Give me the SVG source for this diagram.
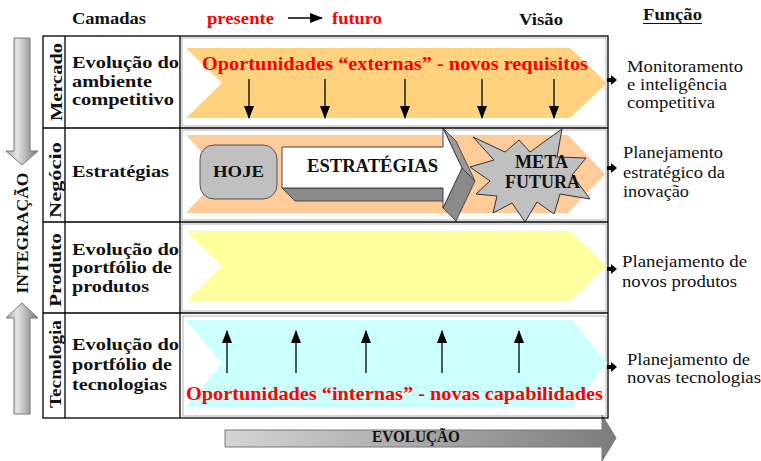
<svg xmlns="http://www.w3.org/2000/svg" width="761" height="461" viewBox="0 0 761 461">
<defs>
<style>
.b{font-family:"Liberation Serif","Times New Roman",serif;font-weight:bold;fill:#111}
.r{font-family:"Liberation Serif","Times New Roman",serif;font-weight:bold;fill:#ff0000}
.n{font-family:"Liberation Serif","Times New Roman",serif;fill:#111;font-size:17px}
.grid{stroke:#000;stroke-width:1.3;fill:none}
.frame{stroke:#a0a0a0;stroke-width:0.8;fill:none}
.ar{stroke:#000;stroke-width:1.3;fill:none;marker-end:url(#ah)}
.big{stroke:#777;stroke-width:1}
</style>
<marker id="ah" viewBox="0 0 13 10" refX="12" refY="5" markerWidth="13" markerHeight="10" markerUnits="userSpaceOnUse" orient="auto">
<path d="M0,0 L13,5 L0,10 Z" fill="#000"/>
</marker>
<linearGradient id="gv" x1="0" x2="1" y1="0" y2="0">
<stop offset="0" stop-color="#a8a8a8"/><stop offset="0.35" stop-color="#e4e4e4"/><stop offset="1" stop-color="#767676"/>
</linearGradient>
<linearGradient id="gh" x1="0" x2="1" y1="0" y2="0">
<stop offset="0" stop-color="#d4d4d4"/><stop offset="1" stop-color="#7c7c7c"/>
</linearGradient>
</defs>
<rect width="761" height="461" fill="#fff"/>

<g id="header">
<text class="b" x="72" y="24" font-size="17" textLength="74" lengthAdjust="spacingAndGlyphs">Camadas</text>
<text class="r" x="207" y="24" font-size="17" textLength="67" lengthAdjust="spacingAndGlyphs">presente</text>
<text class="r" x="332" y="24" font-size="17" textLength="50" lengthAdjust="spacingAndGlyphs">futuro</text>
<text class="b" x="519" y="25" font-size="17" textLength="44" lengthAdjust="spacingAndGlyphs">Visão</text>
<text class="b" x="643" y="20" font-size="17" textLength="59" lengthAdjust="spacingAndGlyphs">Função</text>
<line x1="643" y1="23.5" x2="702" y2="23.5" stroke="#111" stroke-width="1.2"/>
</g>

<g id="integracao">
<polygon class="big" fill="url(#gv)" points="14,38 30,38 30,151 38,151 22,165 6,151 14,151"/>
<polygon class="big" fill="url(#gv)" points="22,303 38,318 30,318 30,414 14,414 14,318 6,318"/>
<text class="b" transform="translate(28,233) rotate(-90)" text-anchor="middle" font-size="16" textLength="121" lengthAdjust="spacingAndGlyphs">INTEGRAÇÃO</text>
</g>

<g id="evolucao">
<polygon class="big" fill="url(#gh)" points="225,430 602,430 602,415 616,438 602,461 602,447 225,447"/>
<text class="b" x="372" y="442" font-size="17" fill="#1a1a3a" textLength="88" lengthAdjust="spacingAndGlyphs">EVOLUÇÃO</text>
</g>

<g id="row-mercado">
<rect class="frame" x="182" y="38" width="424" height="88"/>
<polygon fill="#FFD27F" points="186,48 570,48 607,83 570,118 186,118 222,83"/>
<text class="b" transform="translate(62,82) rotate(-90)" text-anchor="middle" font-size="17" textLength="78" lengthAdjust="spacingAndGlyphs">Mercado</text>
<text class="b" x="72" y="68" font-size="17" textLength="107" lengthAdjust="spacingAndGlyphs">Evolução do</text>
<text class="b" x="72" y="87" font-size="17" textLength="80" lengthAdjust="spacingAndGlyphs">ambiente</text>
<text class="b" x="72" y="105" font-size="17" textLength="102" lengthAdjust="spacingAndGlyphs">competitivo</text>
<text class="r" x="202" y="70" font-size="19" textLength="386" lengthAdjust="spacingAndGlyphs">Oportunidades “externas” - novos requisitos</text>
<text class="n" x="627" y="72" textLength="116" lengthAdjust="spacingAndGlyphs">Monitoramento</text>
<text class="n" x="627" y="90" textLength="100" lengthAdjust="spacingAndGlyphs">e inteligência</text>
<text class="n" x="627" y="108" textLength="88" lengthAdjust="spacingAndGlyphs">competitiva</text>
</g>

<g id="row-negocio">
<rect class="frame" x="182" y="130" width="424" height="90"/>
<polygon fill="#FFCC99" points="186,135 568,135 605,174 568,213 186,213 222,174"/>
<text class="b" transform="translate(61,180) rotate(-90)" text-anchor="middle" font-size="17" textLength="76" lengthAdjust="spacingAndGlyphs">Negócio</text>
<text class="b" x="72" y="177" font-size="17" textLength="97" lengthAdjust="spacingAndGlyphs">Estratégias</text>
<g id="hoje">
<rect x="200" y="145" width="77" height="54" rx="14" fill="#C0C0C0" stroke="#555" stroke-width="1"/>
<text class="b" x="238.5" y="177" font-size="17" text-anchor="middle" textLength="51" lengthAdjust="spacingAndGlyphs">HOJE</text>
</g>
<g id="estrategias">
<polygon points="282,188 443,188 456,201 295,201" fill="#8a8a8a" stroke="#333" stroke-width="0.8"/>
<polygon points="443,128 456,141 475,181 462,168" fill="#9a9a9a" stroke="#333" stroke-width="0.8"/>
<polygon points="462,168 475,181 456,221 443,208" fill="#8a8a8a" stroke="#333" stroke-width="0.8"/>
<polygon points="282,147 443,147 443,128 462,168 443,208 443,188 282,188" fill="#fff" stroke="#333" stroke-width="0.9"/>
<text class="b" x="372.5" y="172" font-size="18" text-anchor="middle" textLength="131" lengthAdjust="spacingAndGlyphs">ESTRATÉGIAS</text>
</g>
<g id="meta-futura">
<polygon points="473,137 505,152 519,140 530,152 562,129 557,157 586,158 572,175 590,199 560,194 554,214 537,202 525,222 512,203 493,213 497,196 476,194 490,181 470,167 494,160" fill="#C0C0C0" stroke="#333" stroke-width="1"/>
<text class="b" x="541.5" y="168" font-size="18" text-anchor="middle" textLength="53" lengthAdjust="spacingAndGlyphs">META</text>
<text class="b" x="542.5" y="188" font-size="18" text-anchor="middle" textLength="75" lengthAdjust="spacingAndGlyphs">FUTURA</text>
</g>
<text class="n" x="623" y="158" textLength="100" lengthAdjust="spacingAndGlyphs">Planejamento</text>
<text class="n" x="623" y="178" textLength="102" lengthAdjust="spacingAndGlyphs">estratégico da</text>
<text class="n" x="623" y="197" textLength="66" lengthAdjust="spacingAndGlyphs">inovação</text>
</g>

<g id="row-produto">
<rect class="frame" x="182" y="224" width="424" height="87"/>
<polygon fill="#FFFF9E" points="186,231 570,231 607,266 570,301 186,301 222,266"/>
<text class="b" transform="translate(61,270) rotate(-90)" text-anchor="middle" font-size="17" textLength="74" lengthAdjust="spacingAndGlyphs">Produto</text>
<text class="b" x="72" y="255" font-size="17" textLength="107" lengthAdjust="spacingAndGlyphs">Evolução do</text>
<text class="b" x="72" y="273" font-size="17" textLength="100" lengthAdjust="spacingAndGlyphs">portfólio de</text>
<text class="b" x="72" y="292" font-size="17" textLength="77" lengthAdjust="spacingAndGlyphs">produtos</text>
<text class="n" x="622" y="267" textLength="125" lengthAdjust="spacingAndGlyphs">Planejamento de</text>
<text class="n" x="622" y="287" textLength="115" lengthAdjust="spacingAndGlyphs">novos produtos</text>
</g>

<g id="row-tecnologia">
<rect class="frame" x="183" y="316" width="423" height="100"/>
<polygon fill="#CCFFFF" points="186,320 572,320 607,363 572,407 186,407 222,363"/>
<text class="b" transform="translate(61,364) rotate(-90)" text-anchor="middle" font-size="17" textLength="88" lengthAdjust="spacingAndGlyphs">Tecnologia</text>
<text class="b" x="72" y="350" font-size="17" textLength="107" lengthAdjust="spacingAndGlyphs">Evolução do</text>
<text class="b" x="72" y="370" font-size="17" textLength="100" lengthAdjust="spacingAndGlyphs">portfólio de</text>
<text class="b" x="72" y="390" font-size="17" textLength="95" lengthAdjust="spacingAndGlyphs">tecnologias</text>
<text class="r" x="186" y="400" font-size="19" textLength="417" lengthAdjust="spacingAndGlyphs">Oportunidades “internas” - novas capabilidades</text>
<text class="n" x="627" y="365" textLength="123" lengthAdjust="spacingAndGlyphs">Planejamento de</text>
<text class="n" x="627" y="383" textLength="134" lengthAdjust="spacingAndGlyphs">novas tecnologias</text>
</g>

<g id="table">
<rect class="grid" x="43" y="36" width="565" height="382"/>
<line class="grid" x1="65" y1="36" x2="65" y2="418"/>
<line class="grid" x1="180" y1="36" x2="180" y2="418"/>
<line class="grid" x1="43" y1="128" x2="608" y2="128"/>
<line class="grid" x1="43" y1="222" x2="608" y2="222"/>
<line class="grid" x1="43" y1="313" x2="608" y2="313"/>
</g>

<g id="connectors">
<line class="ar" x1="288" y1="18" x2="322" y2="18"/>
<line class="ar" x1="249" y1="79" x2="249" y2="118"/>
<line class="ar" x1="325" y1="79" x2="325" y2="118"/>
<line class="ar" x1="405" y1="79" x2="405" y2="118"/>
<line class="ar" x1="482" y1="79" x2="482" y2="118"/>
<line class="ar" x1="554" y1="79" x2="554" y2="118"/>
<line class="ar" x1="227" y1="373" x2="227" y2="331"/>
<line class="ar" x1="296" y1="373" x2="296" y2="331"/>
<line class="ar" x1="366" y1="373" x2="366" y2="331"/>
<line class="ar" x1="442" y1="373" x2="442" y2="331"/>
<line class="ar" x1="519" y1="373" x2="519" y2="331"/>
<polygon fill="#000" points="607,78 611,78 611,75 617,80 611,85 611,82 607,82"/>
<polygon fill="#000" points="607,166 611,166 611,163 617,168 611,173 611,170 607,170"/>
<polygon fill="#000" points="607,267 611,267 611,264 617,269 611,274 611,271 607,271"/>
<polygon fill="#000" points="607,365 611,365 611,362 617,367 611,372 611,369 607,369"/>
</g>
</svg>
